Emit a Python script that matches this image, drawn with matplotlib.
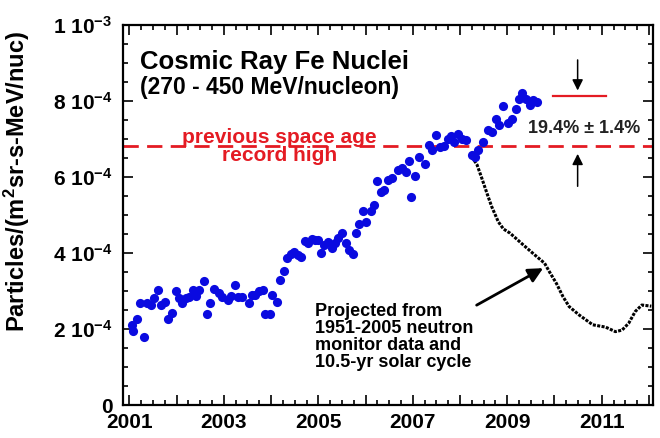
import numpy as np
import matplotlib
matplotlib.use('Agg')
import matplotlib.pyplot as plt
from matplotlib.ticker import FixedLocator, MultipleLocator, FuncFormatter

plt.rcParams['font.family'] = ['Liberation Sans', 'DejaVu Sans']
plt.rcParams['font.weight'] = 'bold'
plt.rcParams['mathtext.fontset'] = 'custom'
plt.rcParams['mathtext.rm'] = 'Liberation Sans:bold'
plt.rcParams['mathtext.bf'] = 'Liberation Sans:bold'
plt.rcParams['mathtext.it'] = 'Liberation Sans:bold:italic'
plt.rcParams['mathtext.default'] = 'bf'

# measured Fe flux, units of 1e-4
fe_year = [2001.05, 2001.08, 2001.16, 2001.23, 2001.30, 2001.37, 2001.46, 2001.53, 2001.60, 2001.68,
           2001.75, 2001.82, 2001.90, 2001.98, 2002.06, 2002.12, 2002.20, 2002.27, 2002.34, 2002.41,
           2002.48, 2002.57, 2002.64, 2002.71, 2002.80, 2002.89, 2002.97, 2003.08, 2003.15, 2003.23,
           2003.29, 2003.39, 2003.53, 2003.60, 2003.67, 2003.75, 2003.83, 2003.88, 2003.97, 2004.03,
           2004.13, 2004.19, 2004.27, 2004.34, 2004.42, 2004.49, 2004.56, 2004.63, 2004.71, 2004.78,
           2004.86, 2004.93, 2005.00, 2005.05, 2005.13, 2005.21, 2005.28, 2005.36, 2005.42, 2005.50,
           2005.58, 2005.66, 2005.73, 2005.79, 2005.86, 2005.95, 2006.02, 2006.11, 2006.18, 2006.24,
           2006.32, 2006.40, 2006.47, 2006.55, 2006.68, 2006.78, 2006.85, 2006.92, 2006.96, 2007.04,
           2007.13, 2007.25, 2007.34, 2007.41, 2007.50, 2007.57, 2007.66, 2007.74, 2007.81, 2007.88,
           2007.95, 2008.04, 2008.13, 2008.25, 2008.32, 2008.39, 2008.48, 2008.60, 2008.67, 2008.76,
           2008.83, 2008.90, 2009.02, 2009.09, 2009.18, 2009.25, 2009.32, 2009.39, 2009.48, 2009.55,
           2009.64]
fe_flux = [2.11, 1.96, 2.25, 2.68, 1.78, 2.68, 2.62, 2.82, 3.03, 2.62,
           2.72, 2.27, 2.41, 3.01, 2.81, 2.69, 2.81, 2.84, 3.03, 2.86,
           3.03, 3.26, 2.40, 2.69, 3.05, 2.94, 2.85, 2.76, 2.87, 3.17,
           2.84, 2.84, 2.69, 2.89, 2.89, 3.00, 3.03, 2.40, 2.40, 2.89,
           2.72, 3.29, 3.52, 3.86, 3.97, 4.03, 3.95, 3.89, 4.32, 4.25,
           4.36, 4.34, 4.35, 4.01, 4.20, 4.30, 4.12, 4.26, 4.39, 4.52,
           4.26, 4.08, 3.96, 4.53, 4.76, 5.10, 4.82, 5.10, 5.27, 5.88,
           5.59, 5.65, 5.92, 5.97, 6.18, 6.23, 6.14, 6.43, 5.48, 6.03,
           6.53, 6.34, 6.84, 6.71, 7.11, 6.78, 6.80, 6.99, 7.08, 6.93,
           7.13, 6.99, 6.96, 6.58, 6.53, 6.71, 6.93, 7.24, 7.19, 7.52,
           7.37, 7.87, 7.43, 7.52, 7.78, 8.05, 8.20, 8.05, 7.90, 8.01,
           7.98]

# projection from neutron monitor data, units of 1e-4
proj_year = [2008.25, 2008.36, 2008.46, 2008.57, 2008.67, 2008.81, 2008.92, 2009.06, 2009.34, 2009.58,
             2009.79, 2009.89, 2010.04, 2010.18, 2010.31, 2010.52, 2010.81, 2011.08, 2011.29, 2011.43,
             2011.57, 2011.71, 2011.85, 2012.05]
proj_flux = [6.53, 6.32, 5.97, 5.57, 5.22, 4.82, 4.63, 4.52, 4.21, 3.95,
             3.73, 3.51, 3.20, 2.85, 2.59, 2.37, 2.11, 2.05, 1.93, 1.97,
             2.15, 2.46, 2.63, 2.60]

record_high = 6.8   # previous space age record, 1e-4
current_level = 8.12

red = '#e41b23'

fig = plt.figure(figsize=(6.6, 4.38), dpi=100)
ax = fig.add_axes([0.186, 0.0753, 0.803, 0.868])

scale = 1e-4
ax.plot(proj_year, np.array(proj_flux) * scale, color='black', lw=2.2,
        linestyle=(0, (1, 0.45)), zorder=2)
ax.plot(fe_year, np.array(fe_flux) * scale, 'o', color='#0a0ae0', ms=6.6, mec='none', zorder=3)

ax.axhline(record_high * scale, color=red, lw=2, dashes=(5.5, 3), zorder=1)
ax.plot([2009.97, 2011.10], [current_level * scale] * 2, color=red, lw=1.6)

ax.text(2004.18, record_high * scale, 'previous space age\nrecord high', color=red,
        fontsize=15, fontweight='bold', ha='center', va='center', linespacing=0.95)

ax.annotate('', xy=(2010.49, 8.2e-4), xytext=(2010.49, 9.15e-4),
            arrowprops=dict(arrowstyle='-|>', lw=1.1, color='black', mutation_scale=16))
ax.annotate('', xy=(2010.49, 6.68e-4), xytext=(2010.49, 5.68e-4),
            arrowprops=dict(arrowstyle='-|>', lw=1.1, color='black', mutation_scale=16))
ax.text(2010.63, 7.28e-4, '19.4% \u00b1 1.4%', color='#222222', fontsize=13,
        fontweight='bold', ha='center', va='center')

ax.annotate('Projected from\n1951-2005 neutron\nmonitor data and\n10.5-yr solar cycle',
            xy=(2009.76, 3.6e-4), xytext=(2004.94, 1.78e-4),
            fontsize=13, fontweight='bold', ha='left', va='center', linespacing=1.0,
            arrowprops=dict(arrowstyle='-|>', lw=2, color='black', mutation_scale=22,
                            shrinkA=0, shrinkB=0, relpos=(0.93, 0.86)))

ax.text(0.033, 0.903, 'Cosmic Ray Fe Nuclei', transform=ax.transAxes, fontsize=18.5,
        fontweight='bold', ha='left', va='center')
ax.text(0.033, 0.834, '(270 - 450 MeV/nucleon)', transform=ax.transAxes, fontsize=16.5,
        fontweight='bold', ha='left', va='center')

ax.set_xlim(2000.86, 2012.08)
ax.set_ylim(0, 1e-3)

ax.xaxis.set_major_locator(FixedLocator(range(2001, 2013)))
ax.xaxis.set_minor_locator(MultipleLocator(0.25))
ax.xaxis.set_major_formatter(FuncFormatter(lambda v, p: '%d' % round(v) if round(v) % 2 == 1 else ''))

ax.yaxis.set_major_locator(MultipleLocator(2e-4))
ax.yaxis.set_minor_locator(MultipleLocator(0.5e-4))


def ylab(v, p):
    k = int(round(v / 1e-4))
    if k == 0:
        return '0'
    if k == 10:
        return '1 10$^{-3}$'
    return '%d 10$^{-4}$' % k


ax.yaxis.set_major_formatter(FuncFormatter(ylab))

ax.tick_params(which='both', direction='in', top=True, right=True, width=1.2, labelsize=15)
ax.tick_params(which='major', length=7)
ax.tick_params(which='minor', length=3.5)
ax.tick_params(axis='y', pad=7.5)
ax.tick_params(axis='x', pad=6)
for lab in ax.get_xticklabels() + ax.get_yticklabels():
    lab.set_fontweight('bold')
for s in ax.spines.values():
    s.set_linewidth(1.6)

ax.set_ylabel('Particles/(m$^2$sr-s-MeV/nuc)', fontsize=17, fontweight='bold')
ax.yaxis.set_label_coords(-0.171, 0.588)

fig.savefig('out.png', dpi=100)
